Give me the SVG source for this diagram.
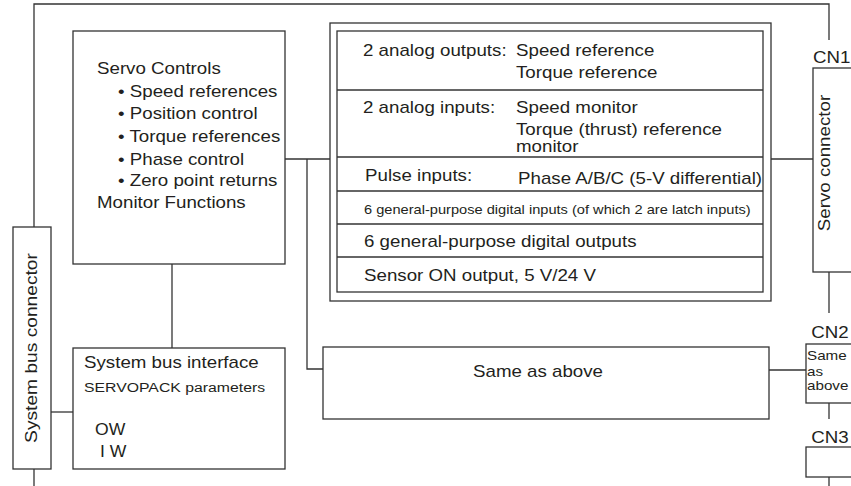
<svg xmlns="http://www.w3.org/2000/svg" width="851" height="486" viewBox="0 0 851 486">
<style>
  .b { fill: #ffffff; stroke: #333333; stroke-width: 1.3; }
  .l { fill: none; stroke: #333333; stroke-width: 1.3; }
  text { font-family: "Liberation Sans", Arial, sans-serif; fill: #231f20; font-size: 16px; }
  .sm { font-size: 12.5px; }
  .ms { font-size: 13.5px; }
  .xs { font-size: 13px; }
  .m { text-anchor: middle; }
</style>
<rect width="851" height="486" fill="#ffffff"/>

<g id="connectors">
  <polyline class="l" points="34,227 34,4 829,4 829,40"/>
  <line class="l" x1="34" y1="469" x2="34" y2="486"/>
  <line class="l" x1="51" y1="412" x2="73" y2="412"/>
  <line class="l" x1="172" y1="264" x2="172" y2="348"/>
  <line class="l" x1="285" y1="159" x2="330" y2="159"/>
  <polyline class="l" points="307,159 307,369 323,369"/>
  <line class="l" x1="771" y1="159" x2="813" y2="159"/>
  <line class="l" x1="769" y1="370" x2="806" y2="370"/>
  <line class="l" x1="829" y1="272" x2="829" y2="313"/>
  <line class="l" x1="829" y1="403" x2="829" y2="419"/>
  <line class="l" x1="829" y1="477" x2="829" y2="486"/>
</g>

<g id="system-bus-connector">
  <rect class="b" x="13" y="227" width="38" height="242"/>
  <text class="m" transform="translate(37 348) rotate(-90) scale(1.2 1)">System bus connector</text>
</g>

<g id="servo-controls">
  <rect class="b" x="73" y="31" width="212" height="233"/>
  <text transform="translate(97 74) scale(1.17 1)">Servo Controls</text>
  <text transform="translate(118 97) scale(1.17 1)">• Speed references</text>
  <text transform="translate(118 119) scale(1.17 1)">• Position control</text>
  <text transform="translate(118 142) scale(1.17 1)">• Torque references</text>
  <text transform="translate(118 165) scale(1.17 1)">• Phase control</text>
  <text transform="translate(118 186) scale(1.17 1)">• Zero point returns</text>
  <text transform="translate(97 208) scale(1.17 1)">Monitor Functions</text>
</g>

<g id="system-bus-interface">
  <rect class="b" x="73" y="348" width="212" height="121"/>
  <text transform="translate(84 368) scale(1.17 1)">System bus interface</text>
  <text class="ms" transform="translate(84 392) scale(1.17 1)">SERVOPACK parameters</text>
  <text transform="translate(95 435) scale(1.1 1)">OW</text>
  <text transform="translate(100 457) scale(1.1 1)">I W</text>
</g>

<g id="io-block">
  <rect class="b" x="330" y="23" width="441" height="278"/>
  <rect class="b" x="337" y="31" width="426" height="261"/>
  <line class="l" x1="337" y1="90" x2="763" y2="90"/>
  <line class="l" x1="337" y1="157" x2="763" y2="157"/>
  <line class="l" x1="337" y1="191" x2="763" y2="191"/>
  <line class="l" x1="337" y1="224" x2="763" y2="224"/>
  <line class="l" x1="337" y1="257" x2="763" y2="257"/>
  <text transform="translate(363 56) scale(1.17 1)">2 analog outputs:</text>
  <text transform="translate(516 56) scale(1.17 1)">Speed reference</text>
  <text transform="translate(516 78) scale(1.17 1)">Torque reference</text>
  <text transform="translate(363 113) scale(1.17 1)">2 analog inputs:</text>
  <text transform="translate(516 113) scale(1.17 1)">Speed monitor</text>
  <text transform="translate(516 135) scale(1.17 1)">Torque (thrust) reference</text>
  <text transform="translate(516 152) scale(1.17 1)">monitor</text>
  <text transform="translate(365 181) scale(1.17 1)">Pulse inputs:</text>
  <text transform="translate(518 184) scale(1.17 1)">Phase A/B/C (5-V differential)</text>
  <text class="sm" transform="translate(364 214) scale(1.17 1)">6 general-purpose digital inputs (of which 2 are latch inputs)</text>
  <text transform="translate(364 247) scale(1.17 1)">6 general-purpose digital outputs</text>
  <text transform="translate(364 281) scale(1.17 1)">Sensor ON output, 5 V/24 V</text>
</g>

<g id="same-as-above-block">
  <rect class="b" x="323" y="347" width="446" height="72"/>
  <text class="m" transform="translate(538 377) scale(1.17 1)">Same as above</text>
</g>

<g id="cn1">
  <text transform="translate(813 63) scale(1.17 1)">CN1</text>
  <rect class="b" x="813" y="68" width="50" height="204"/>
  <text class="m" transform="translate(830 163) rotate(-90) scale(1.17 1)">Servo connector</text>
</g>

<g id="cn2">
  <text class="m" transform="translate(830 338) scale(1.17 1)">CN2</text>
  <rect class="b" x="806" y="344" width="50" height="59"/>
  <text class="xs" transform="translate(807 360) scale(1.17 1)">Same</text>
  <text class="xs" transform="translate(807 376) scale(1.17 1)">as</text>
  <text class="xs" transform="translate(807 390) scale(1.17 1)">above</text>
</g>

<g id="cn3">
  <text class="m" transform="translate(830 443) scale(1.17 1)">CN3</text>
  <rect class="b" x="806" y="447" width="50" height="30"/>
</g>
</svg>
